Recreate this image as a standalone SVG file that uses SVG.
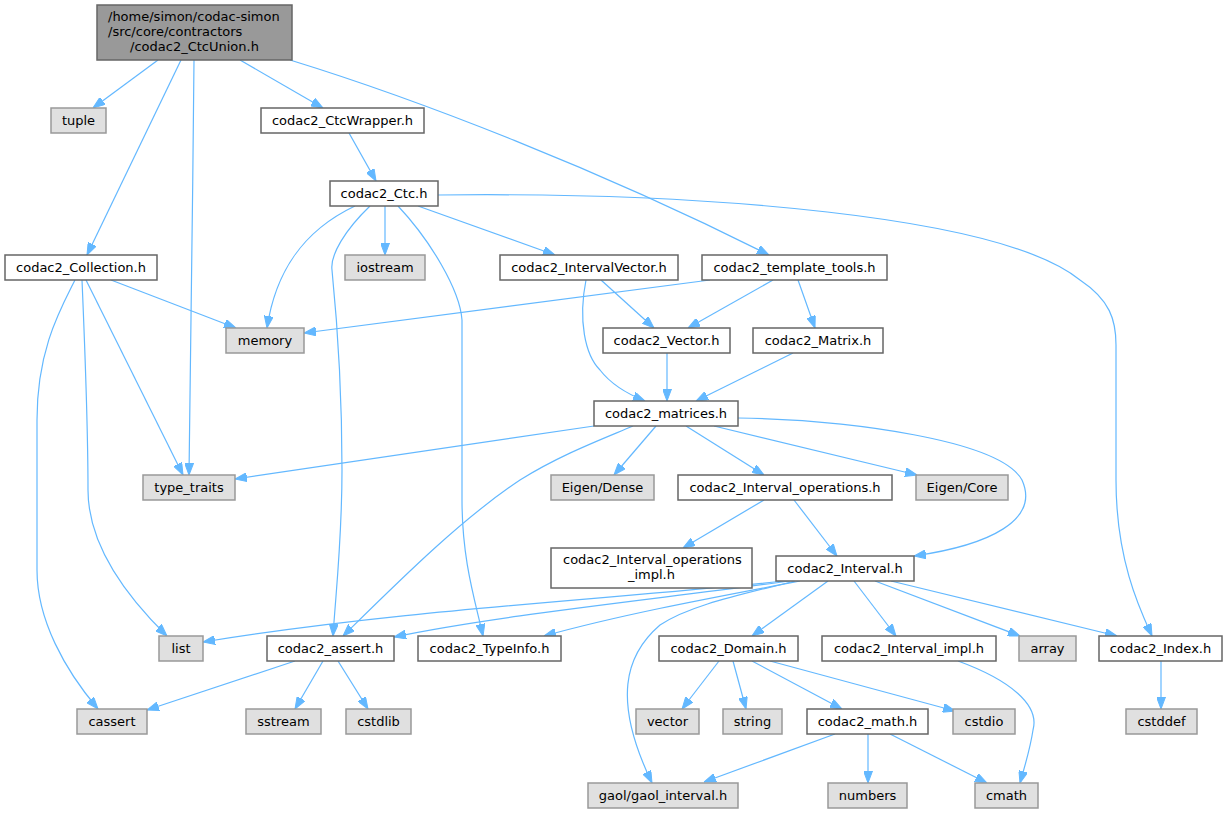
<svg xmlns="http://www.w3.org/2000/svg" width="1228" height="813" viewBox="0 0 1228 813">
<style>
.n rect{fill:#ffffff;stroke:#666666;stroke-width:1.5}
.x rect{fill:#e0e0e0;stroke:#999999;stroke-width:1.5}
.r rect{fill:#999999;stroke:#666666;stroke-width:1.5}
text{font-family:"DejaVu Sans","Liberation Sans",sans-serif;font-size:13px;fill:#000000;text-anchor:middle}
.e path{fill:none;stroke:#63b8ff;stroke-width:1.2;marker-end:url(#a)}
</style>
<defs>
<marker id="a" markerUnits="userSpaceOnUse" markerWidth="12" markerHeight="9" refX="12" refY="4.5" orient="auto">
<path d="M0,0 L12,4.5 L0,9 z" fill="#63b8ff" stroke="#63b8ff" stroke-width="1"/>
</marker>
</defs>
<rect width="1228" height="813" fill="#ffffff"/>
<g class="e" id="edges">
<path d="M158,60 L93,108"/>
<path d="M181,60 L87,255"/>
<path d="M194,60 C193,200 190,350 189,475"/>
<path d="M240,60 L323,108"/>
<path d="M290,60 C420,100 600,170 769,255"/>
<path d="M349,133 L376,181"/>
<path d="M355,206 C300,232 275,275 267,328"/>
<path d="M370,206 C345,230 330,255 332,270 C340,350 342,420 342,470 C342,540 336,590 333,636"/>
<path d="M385,206 L385,255"/>
<path d="M398,206 C430,240 460,290 462,320 L462,500 C462,560 475,600 483,636"/>
<path d="M418,206 L555,255"/>
<path d="M438,195 C700,192 1000,215 1080,280 C1110,300 1116,320 1116,345 L1116,480 C1116,560 1140,610 1152,636"/>
<path d="M710,280 L304,333"/>
<path d="M773,280 L688,328"/>
<path d="M798,280 L815,328"/>
<path d="M601,280 L654,328"/>
<path d="M586,280 C578,320 585,355 600,370 C610,383 625,393 645,401"/>
<path d="M667,353 L667,401"/>
<path d="M793,353 L696,401"/>
<path d="M594,426 L235,479"/>
<path d="M633,426 C600,440 560,455 520,480 C460,520 400,580 343,636"/>
<path d="M656,426 L614,475"/>
<path d="M686,426 L764,475"/>
<path d="M714,426 L917,475"/>
<path d="M738,418 C850,420 1000,440 1022,480 C1040,520 990,545 914,556"/>
<path d="M764,500 L683,548"/>
<path d="M794,500 L837,556"/>
<path d="M785,581 C600,600 400,610 203,642"/>
<path d="M790,581 C650,600 500,615 394,637"/>
<path d="M800,581 C700,600 620,615 544,636"/>
<path d="M795,581 C740,595 690,605 660,625 C625,655 612,700 652,783"/>
<path d="M828,581 L752,636"/>
<path d="M854,581 L896,636"/>
<path d="M875,581 L1020,636"/>
<path d="M891,581 L1117,636"/>
<path d="M719,661 L682,709"/>
<path d="M733,661 L746,709"/>
<path d="M752,661 L842,709"/>
<path d="M770,661 L955,711"/>
<path d="M958,661 C1010,680 1040,705 1033,730 C1030,750 1025,765 1020,783"/>
<path d="M835,734 L704,782"/>
<path d="M868,734 L868,783"/>
<path d="M890,734 L987,783"/>
<path d="M1161,661 L1161,709"/>
<path d="M295,661 L147,710"/>
<path d="M323,661 L295,709"/>
<path d="M338,661 L368,709"/>
<path d="M111,280 L236,328"/>
<path d="M86,280 L183,475"/>
<path d="M82,280 C85,350 88,420 88,490 C88,540 120,590 167,636"/>
<path d="M75,280 C60,310 37,350 37,420 L37,570 C37,620 65,670 98,709"/>
</g>
<g id="root" class="r"><rect x="97" y="5" width="195" height="55"/><text x="108" y="21" style="text-anchor:start">/home/simon/codac-simon</text><text x="108" y="36" style="text-anchor:start">/src/core/contractors</text><text x="194.5" y="51">/codac2_CtcUnion.h</text></g>
<g id="tuple" class="x"><rect x="51" y="108" width="55" height="25"/><text x="78.5" y="125">tuple</text></g>
<g id="ctcwrapper" class="n"><rect x="261" y="108" width="163" height="25"/><text x="342.5" y="125">codac2_CtcWrapper.h</text></g>
<g id="ctc" class="n"><rect x="330" y="181" width="108" height="25"/><text x="384" y="198">codac2_Ctc.h</text></g>
<g id="collection" class="n"><rect x="5" y="255" width="152" height="25"/><text x="81" y="272">codac2_Collection.h</text></g>
<g id="iostream" class="x"><rect x="345" y="255" width="80" height="25"/><text x="385" y="272">iostream</text></g>
<g id="memory" class="x"><rect x="226" y="328" width="78" height="25"/><text x="265" y="345">memory</text></g>
<g id="type_traits" class="x"><rect x="143" y="475" width="92" height="25"/><text x="189" y="492">type_traits</text></g>
<g id="intervalvector" class="n"><rect x="500" y="255" width="178" height="25"/><text x="589" y="272">codac2_IntervalVector.h</text></g>
<g id="template_tools" class="n"><rect x="702" y="255" width="185" height="25"/><text x="794.5" y="272">codac2_template_tools.h</text></g>
<g id="vector_h" class="n"><rect x="603" y="328" width="127" height="25"/><text x="666.5" y="345">codac2_Vector.h</text></g>
<g id="matrix_h" class="n"><rect x="753" y="328" width="130" height="25"/><text x="818" y="345">codac2_Matrix.h</text></g>
<g id="matrices" class="n"><rect x="594" y="401" width="144" height="25"/><text x="666" y="418">codac2_matrices.h</text></g>
<g id="eigen_dense" class="x"><rect x="551" y="475" width="103" height="25"/><text x="602.5" y="492">Eigen/Dense</text></g>
<g id="interval_operations" class="n"><rect x="678" y="475" width="214" height="25"/><text x="785" y="492">codac2_Interval_operations.h</text></g>
<g id="eigen_core" class="x"><rect x="916" y="475" width="92" height="25"/><text x="962" y="492">Eigen/Core</text></g>
<g id="interval_operations_impl" class="n"><rect x="551" y="548" width="201" height="40"/><text x="563" y="564" style="text-anchor:start">codac2_Interval_operations</text><text x="651.5" y="579">_impl.h</text></g>
<g id="interval" class="n"><rect x="776" y="556" width="138" height="25"/><text x="845" y="573">codac2_Interval.h</text></g>
<g id="list" class="x"><rect x="159" y="636" width="44" height="25"/><text x="181" y="653">list</text></g>
<g id="assert" class="n"><rect x="267" y="636" width="127" height="25"/><text x="330.5" y="653">codac2_assert.h</text></g>
<g id="typeinfo" class="n"><rect x="418" y="636" width="143" height="25"/><text x="489.5" y="653">codac2_TypeInfo.h</text></g>
<g id="domain" class="n"><rect x="659" y="636" width="139" height="25"/><text x="728.5" y="653">codac2_Domain.h</text></g>
<g id="interval_impl" class="n"><rect x="822" y="636" width="174" height="25"/><text x="909" y="653">codac2_Interval_impl.h</text></g>
<g id="array" class="x"><rect x="1019" y="636" width="57" height="25"/><text x="1047.5" y="653">array</text></g>
<g id="index" class="n"><rect x="1099" y="636" width="123" height="25"/><text x="1160.5" y="653">codac2_Index.h</text></g>
<g id="cassert" class="x"><rect x="77" y="709" width="70" height="25"/><text x="112" y="726">cassert</text></g>
<g id="sstream" class="x"><rect x="246" y="709" width="75" height="25"/><text x="283.5" y="726">sstream</text></g>
<g id="cstdlib" class="x"><rect x="346" y="709" width="65" height="25"/><text x="378.5" y="726">cstdlib</text></g>
<g id="vector" class="x"><rect x="636" y="709" width="63" height="25"/><text x="667.5" y="726">vector</text></g>
<g id="string" class="x"><rect x="723" y="709" width="59" height="25"/><text x="752.5" y="726">string</text></g>
<g id="math" class="n"><rect x="807" y="709" width="121" height="25"/><text x="867.5" y="726">codac2_math.h</text></g>
<g id="cstdio" class="x"><rect x="953" y="709" width="62" height="25"/><text x="984" y="726">cstdio</text></g>
<g id="cstddef" class="x"><rect x="1126" y="709" width="71" height="25"/><text x="1161.5" y="726">cstddef</text></g>
<g id="gaol" class="x"><rect x="588" y="783" width="150" height="25"/><text x="663" y="800">gaol/gaol_interval.h</text></g>
<g id="numbers" class="x"><rect x="828" y="783" width="79" height="25"/><text x="867.5" y="800">numbers</text></g>
<g id="cmath" class="x"><rect x="975" y="783" width="63" height="25"/><text x="1006.5" y="800">cmath</text></g>
</svg>
